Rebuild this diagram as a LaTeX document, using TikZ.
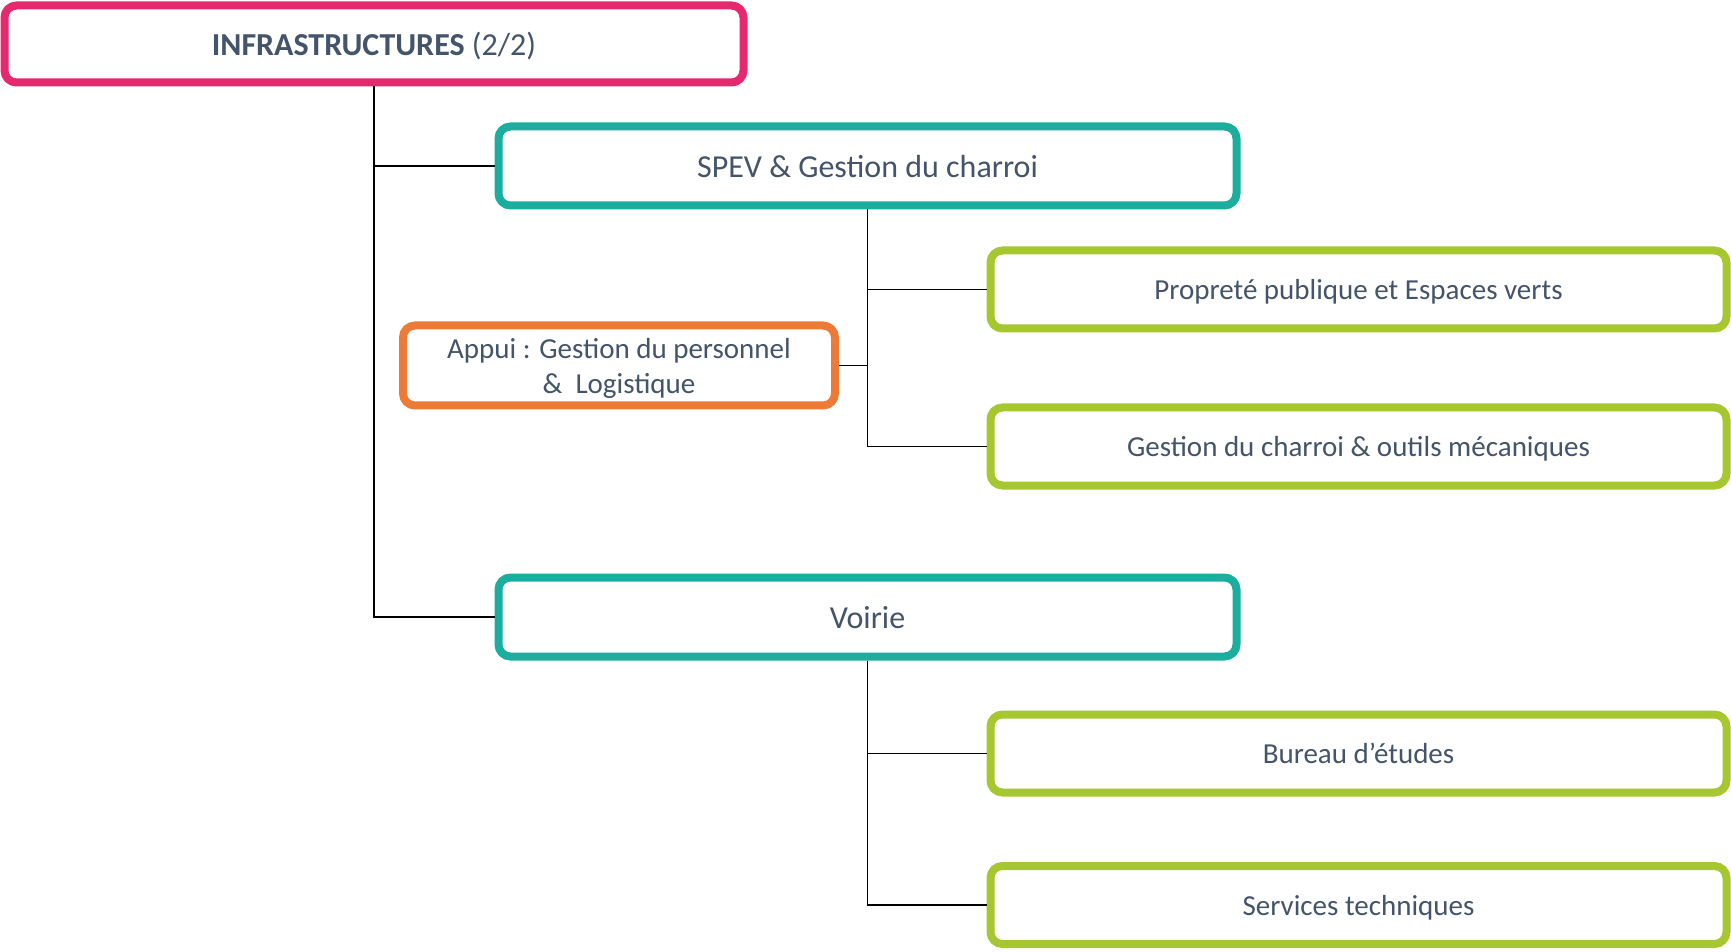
\documentclass[tikz,border=0pt]{standalone}
\usepackage{fontspec}
\setmainfont{Carlito}
\usepackage{tikz}
\usetikzlibrary{
    calc,
    positioning,
}
\definecolor{orgtext}{HTML}{44546A}
\definecolor{orgpink}{HTML}{E6296F}
\definecolor{orgteal}{HTML}{1BAE9E}
\definecolor{orggreen}{HTML}{A6C730}
\definecolor{orgorange}{HTML}{EE7A38}
\tikzset{
    orgchart/.style={
        x=0.5pt, y=-0.5pt,
        every node/.style={text=orgtext, fill=white, line width=4pt, rounded corners=6pt, inner sep=0pt, align=center, text depth=0pt},
        headbox/.style={draw=orgpink, minimum width=369.5pt, minimum height=38.5pt, font=\fontsize{16}{19}\selectfont},
        dirbox/.style={draw=orgteal, minimum width=369pt, minimum height=39.5pt, font=\fontsize{16}{19}\selectfont},
        servbox/.style={draw=orggreen, minimum width=368pt, minimum height=39pt, font=\fontsize{14.5}{17.5}\selectfont},
        supportbox/.style={draw=orgorange, minimum width=216pt, minimum height=40pt, font=\fontsize{14.5}{17.5}\selectfont},
        link/.style={draw=black, line width=0.7pt},
    },
}

\begin{document}
\begin{tikzpicture}[orgchart]
    \useasboundingbox (0,0) rectangle (1731,952);
    % the nodes
    \node[headbox] (infra) at (374,44) {\textbf{INFRASTRUCTURES} (2/2)};
    \node[dirbox] (spev) at (867.5,166) {SPEV \& Gestion du charroi};
    \node[servbox] (proprete) at (1358.5,289.5) {Propreté publique et Espaces verts};
    \node[servbox] (charroi) at (1358.5,446.5) {Gestion du charroi \& outils mécaniques};
    \node[supportbox] (appui) at (619,365.5) {Appui : Gestion du personnel\\ \&\ \ Logistique};
    \node[dirbox] (voirie) at (867.5,617) {Voirie};
    \node[servbox] (bureau) at (1358.5,753.5) {Bureau d’études};
    \node[servbox] (services) at (1358.5,905) {Services techniques};
    % the links
    \begin{scope}[on background layer/.try]
        \path[link] (infra.south) |- (spev.west);
        \path[link] (infra.south) |- (voirie.west);
        \path[link] (spev.south) |- (proprete.west);
        \path[link] (spev.south) |- (charroi.west);
        \path[link] (appui.east) -- (appui.east -| spev.south);
        \path[link] (voirie.south) |- (bureau.west);
        \path[link] (voirie.south) |- (services.west);
    \end{scope}
\end{tikzpicture}
\end{document}
